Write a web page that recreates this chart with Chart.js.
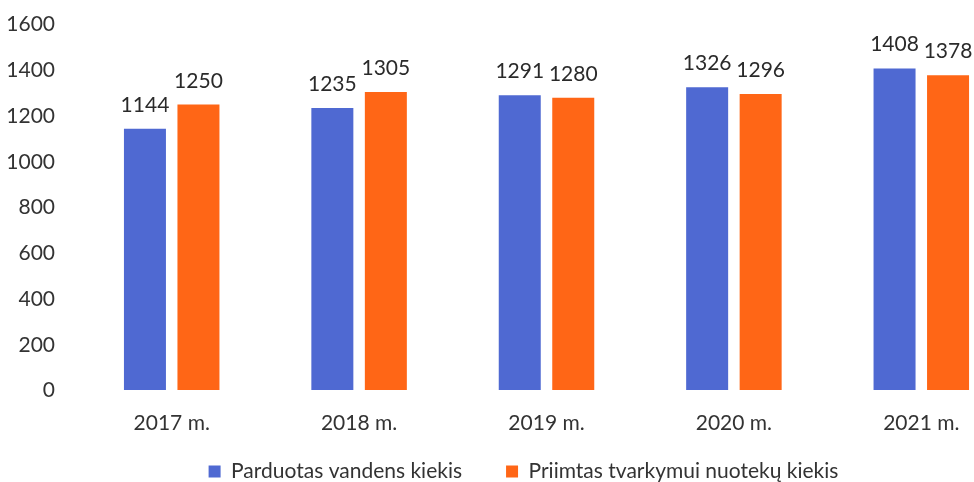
<!DOCTYPE html>
<html>
<head>
<meta charset="utf-8">
<script src="https://cdn.jsdelivr.net/npm/chart.js@4"></script>
<style>
html,body{margin:0;padding:0;background:#fff;overflow:hidden;width:974px;height:482px;}
#wrap{position:absolute;left:0;top:0;}
</style>
</head>
<body>
<div id="wrap"><canvas id="c" width="1050" height="511"></canvas></div>
<script>
const categories = ["2017 m.", "2018 m.", "2019 m.", "2020 m.", "2021 m."];
const parduotas = [1144, 1235, 1291, 1326, 1408];
const priimtas = [1250, 1305, 1280, 1296, 1378];
const seriesNames = ["Parduotas vandens kiekis", "Priimtas tvarkymui nuotekų kiekis"];
const yMin = 0, yMax = 1600, yStep = 200;

const FONT = "Lato";
const FS = 21;
const valueLabels = {
  id: "valueLabels",
  afterDatasetsDraw(chart) {
    const ctx = chart.ctx;
    ctx.save();
    ctx.font = FS + "px " + FONT;
    ctx.fillStyle = "#2a2a2a";
    ctx.textAlign = "center";
    ctx.textBaseline = "alphabetic";
    chart.data.datasets.forEach((ds, i) => {
      const meta = chart.getDatasetMeta(i);
      meta.data.forEach((bar, j) => {
        ctx.fillText(String(ds.data[j]), bar.x, bar.y - 17);
      });
    });
    ctx.restore();
  }
};
// pull the legend up a little (keeps its wide item spacing)
const legendNudge = {
  id: "legendNudge",
  afterLayout(chart) {
    const lg = chart.legend;
    if (lg) { lg.top -= 19; lg.bottom -= 19; }
  }
};

new Chart(document.getElementById("c"), {
  type: "bar",
  data: {
    labels: categories,
    datasets: [
      { label: seriesNames[0], data: parduotas, backgroundColor: "#4F69D2", barPercentage: 0.785, categoryPercentage: 0.571 },
      { label: seriesNames[1], data: priimtas, backgroundColor: "#FF6616", barPercentage: 0.785, categoryPercentage: 0.571 }
    ]
  },
  options: {
    responsive: false,
    devicePixelRatio: 1,
    animation: false,
    layout: { padding: { left: 0, right: 3, top: 24.5, bottom: 0 } },
    plugins: {
      tooltip: { enabled: false },
      legend: {
        position: "bottom",
        labels: {
          boxWidth: 12, boxHeight: 12, padding: 44,
          color: "#333", font: { family: FONT, size: FS }
        }
      }
    },
    scales: {
      x: {
        grid: { display: false, drawTicks: false },
        border: { display: false },
        ticks: { color: "#333", font: { family: FONT, size: FS }, padding: 20, maxRotation: 0 },
        afterFit(s) { s.height = 45.5; }
      },
      y: {
        min: yMin, max: yMax,
        grid: { display: true, drawOnChartArea: false, drawTicks: true, tickLength: 23, tickColor: "rgba(0,0,0,0)" },
        border: { display: false },
        ticks: { stepSize: yStep, color: "#333", font: { family: FONT, size: FS }, padding: 0,
                 callback: (v) => String(v) },
        afterFit(s) { s.width = 78; }
      },
      yR: {
        position: "right",
        display: true,
        grid: { display: false, drawTicks: false },
        border: { display: false },
        ticks: { display: false },
        afterFit(s) { s.width = 32; }
      }
    }
  },
  plugins: [valueLabels, legendNudge]
});
</script>
</body>
</html>
